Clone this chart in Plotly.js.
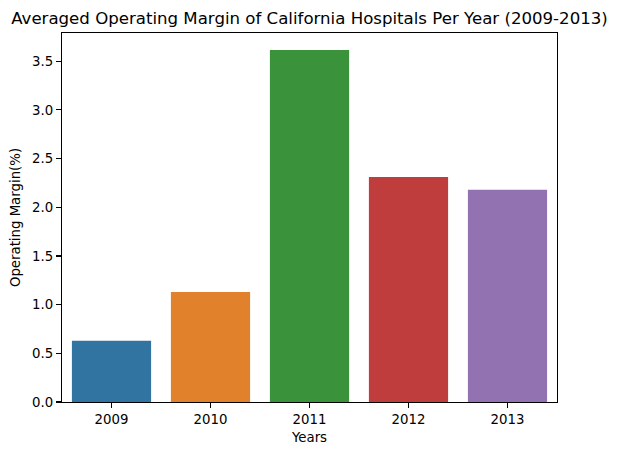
<!DOCTYPE html>
<html>
<head>
<meta charset="utf-8">
<script src="https://cdn.plot.ly/plotly-3.0.1.min.js"></script>
<style>html,body{margin:0;padding:0;background:#fff;}#chart{width:617px;height:455px;}</style>
</head>
<body>
<div id="chart"></div>
<script>
const years = ['2009', '2010', '2011', '2012', '2013'];
const margins = [0.63, 1.13, 3.615, 2.31, 2.18];
const colors = ['#3274a1', '#e1812c', '#3a923a', '#c03d3e', '#9372b2'];
const yTicks = [0, 0.5, 1.0, 1.5, 2.0, 2.5, 3.0, 3.5];

const font = 'DejaVu Sans, sans-serif';
const trace = {
  type: 'bar',
  x: years,
  y: margins,
  marker: {color: colors, line: {width: 0}},
  width: 0.8,
  hoverinfo: 'none'
};
const axisCommon = {
  showline: true, linecolor: '#000', linewidth: 1.1, mirror: true,
  ticks: 'outside', ticklen: 5, tickwidth: 1.1, tickcolor: '#000',
  showgrid: false, zeroline: false,
  tickfont: {family: font, size: 13.3, color: '#000'}
};
const layout = {
  width: 617, height: 455,
  margin: {l: 62, r: 60, t: 33, b: 53, pad: 0},
  paper_bgcolor: '#fff', plot_bgcolor: '#fff',
  showlegend: false,
  bargap: 0.2,
  title: {text: 'Averaged Operating Margin of California Hospitals Per Year (2009-2013)',
          font: {family: font, size: 16.6, color: '#000'},
          x: 0.5, xref: 'paper', xanchor: 'center',
          y: 1 - 18/455, yref: 'container', yanchor: 'middle'},
  xaxis: Object.assign({}, axisCommon, {
    type: 'category', range: [-0.5, 4.5],
    title: {text: 'Years', font: {family: font, size: 13.3, color: '#000'}, standoff: 6}
  }),
  yaxis: Object.assign({}, axisCommon, {
    range: [0, 3.79], tickvals: yTicks, tickformat: '.1f',
    title: {text: 'Operating Margin(%)', font: {family: font, size: 13.3, color: '#000'}, standoff: 8}
  })
};
Plotly.newPlot('chart', [trace], layout, {staticPlot: true, displayModeBar: false});
</script>
</body>
</html>
